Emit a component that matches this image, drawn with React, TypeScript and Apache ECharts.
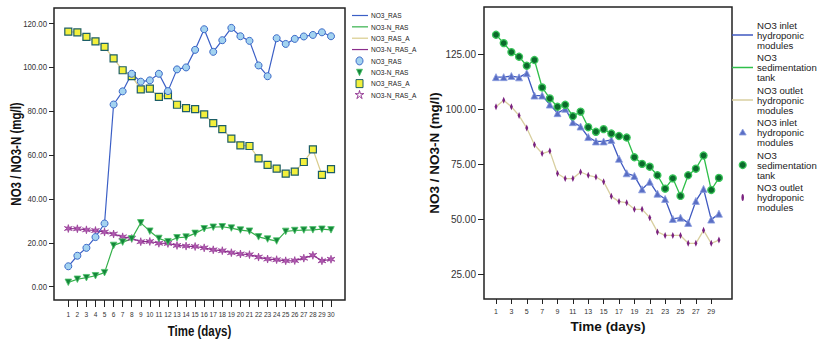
import React, { useEffect, useRef } from "react";
import * as echarts from "echarts";

// ---------- data ----------
const days = [1, 2, 3, 4, 5, 6, 7, 8, 9, 10, 11, 12, 13, 14, 15, 16, 17, 18, 19, 20, 21, 22, 23, 24, 25, 26, 27, 28, 29, 30];
const leftXTicks = days;
const rightXTicks = [1, 3, 5, 7, 9, 11, 13, 15, 17, 19, 21, 23, 25, 27, 29];
const leftYTicks = [0, 20, 40, 60, 80, 100, 120];
const rightYTicks = [25, 50, 75, 100, 125];

const no3Ras = [9.3, 14.1, 17.7, 22.6, 28.8, 83.0, 89.0, 97.0, 93.4, 94.0, 97.0, 89.1, 99.0, 99.9, 107.9, 117.3, 107.0, 112.3, 117.9, 114.1, 112.0, 100.8, 95.9, 113.2, 110.6, 112.9, 114.0, 114.7, 115.9, 114.1];
const no3NRas = [2.0, 3.4, 4.1, 5.0, 6.4, 18.8, 20.3, 21.8, 29.1, 25.3, 22.0, 20.5, 22.3, 22.6, 24.3, 26.4, 27.1, 27.3, 26.7, 25.8, 25.3, 22.7, 21.7, 20.8, 25.2, 25.6, 25.8, 25.9, 26.2, 25.9];
const no3RasA = [116.2, 115.9, 113.8, 111.8, 109.3, 104.0, 98.6, 95.9, 89.9, 90.2, 86.5, 87.3, 82.9, 81.4, 80.9, 78.5, 74.5, 71.8, 67.5, 64.4, 64.1, 58.5, 55.5, 53.8, 51.5, 52.4, 56.8, 62.6, 50.9, 53.6];
const no3NRasA = [26.5, 26.4, 25.9, 25.6, 24.9, 24.0, 22.7, 22.0, 20.5, 20.6, 19.8, 19.7, 18.8, 18.5, 18.3, 17.7, 16.8, 16.4, 15.5, 14.9, 14.6, 13.5, 12.6, 12.3, 11.8, 11.9, 13.0, 14.3, 11.8, 12.5];

const inlet = [114.8, 114.8, 115.3, 114.7, 116.6, 106.4, 106.4, 102.3, 98.4, 100.4, 94.3, 92.3, 87.5, 85.5, 85.5, 86.2, 77.6, 71.0, 69.8, 63.7, 67.1, 61.7, 59.3, 50.2, 50.8, 48.4, 58.4, 63.9, 49.9, 52.6];
const sedimentation = [134.1, 130.3, 126.2, 124.1, 120.0, 122.6, 110.1, 105.1, 101.3, 102.2, 97.0, 99.1, 92.0, 89.9, 91.1, 89.1, 88.0, 87.3, 78.3, 75.3, 74.0, 70.1, 64.0, 68.7, 60.7, 70.1, 73.1, 79.1, 63.4, 68.9];
const outlet = [101.3, 104.3, 101.3, 97.3, 91.6, 84.0, 80.0, 81.1, 70.9, 68.6, 68.6, 71.6, 70.1, 69.3, 67.2, 60.5, 58.1, 57.6, 54.6, 54.6, 50.8, 44.3, 42.7, 42.7, 42.7, 39.1, 39.1, 45.0, 39.1, 40.6];

const leftLegendNames = ["NO3_RAS", "NO3-N_RAS", "NO3_RAS_A", "NO3-N_RAS_A"];
const rightLegendNames = ["NO3 inlet\nhydroponic\nmodules", "NO3\nsedimentation\ntank", "NO3 outlet\nhydroponic\nmodules"];
const yTitle = "NO3 / NO3-N (mg/l)";
const xTitle = "Time (days)";

// ---------- styles ----------
const SANS = "'Liberation Sans', Arial, sans-serif";
const NARROW_SCALE = 0.82;

const C = {
  blueLine: "#3b5fc6",
  greenLine: "#35b04a",
  beigeLine: "#d9cc8c",
  purpleLine: "#8a2d8c",
  circleFill: "#a3d3f0",
  circleBorder: "#3c6ac8",
  squareFill: "#f3f03c",
  squareBorder: "#1d5e66",
  triFill: "#14873a",
  triBorder: "#4cc36a",
  star: "#8b2a8b",
  rBlue: "#3f59c0",
  rGreen: "#2fbf4a",
  rBeige: "#d8cfa0",
  rTri: "#5a6ec4",
  rTriBorder: "#8c9ee0",
  rCircle: "#0b6b2b",
  rCircleBorder: "#39c45a",
  rDiamond: "#7b2280",
};

function starPoints(cx: number, cy: number, ro: number, ri: number, n: number) {
  const pts: number[][] = [];
  for (let i = 0; i < n * 2; i++) {
    const r = i % 2 === 0 ? ro : ri;
    const a = -Math.PI / 2 + (i * Math.PI) / n;
    pts.push([cx + r * Math.cos(a), cy + r * Math.sin(a)]);
  }
  return pts;
}
function starPath() {
  const p = starPoints(0, 0, 10, 3.5, 6);
  return "path://" + p.map((q, i) => (i === 0 ? "M" : "L") + q[0].toFixed(2) + "," + q[1].toFixed(2)).join(" ") + " Z";
}
const STAR = starPath();
const DIAMOND = "path://M0,0 L2,5 L0,10 L-2,5 Z M-2,4.6 L2,4.6 L2,5.4 L-2,5.4 Z";

const pair = (vals: number[]) => vals.map((v, i) => [days[i], v]);

function narrowText(text: string, x: number, y: number, font: string, align: string, vAlign: string, extra: any = {}) {
  return {
    type: "text", x, y, scaleX: NARROW_SCALE, ...extra,
    style: { text, font, fill: extra.fill || "#333", align, verticalAlign: vAlign },
  };
}

export default function App() {
  const ref = useRef<HTMLDivElement>(null);
  useEffect(() => {
    if (!ref.current) return;
    const chart = echarts.init(ref.current, null, { renderer: "svg" });

    const L = { left: 54, top: 8, width: 291, height: 292 };
    const option: any = {
      animation: false,
      backgroundColor: "#ffffff",
      grid: [
        { ...L, show: true, borderColor: "#222", borderWidth: 1.5, backgroundColor: "transparent" },
        { left: 484, top: 7, width: 248, height: 292, show: true, borderColor: "#222", borderWidth: 1.5, backgroundColor: "transparent" },
      ],
      xAxis: [
        {
          type: "value", gridIndex: 0, min: -0.579, max: 31.545,
          axisLine: { show: false, onZero: false },
          splitLine: { show: false },
          axisTick: { show: true, length: 7, customValues: leftXTicks, lineStyle: { color: "#222", width: 1 } },
          axisLabel: { show: false, customValues: leftXTicks },
        },
        {
          type: "value", gridIndex: 1, min: -0.563, max: 31.7,
          axisLine: { show: false, onZero: false },
          splitLine: { show: false },
          axisTick: { show: true, length: 5, customValues: rightXTicks, lineStyle: { color: "#222", width: 1 } },
          axisLabel: { customValues: rightXTicks, margin: 9, fontFamily: SANS, fontSize: 7, color: "#333", formatter: (v: number) => String(v) },
          name: xTitle, nameLocation: "middle", nameGap: 20,
          nameTextStyle: { fontFamily: SANS, fontWeight: "bold", fontSize: 13.5, color: "#111" },
        },
      ],
      yAxis: [
        {
          type: "value", gridIndex: 0, min: -6.06, max: 126.97,
          axisLine: { show: false, onZero: false },
          splitLine: { show: false },
          axisTick: { show: true, length: 5, customValues: leftYTicks, lineStyle: { color: "#222", width: 1 } },
          axisLabel: { show: false, customValues: leftYTicks },
        },
        {
          type: "value", gridIndex: 1, min: 13.74, max: 146.75,
          axisLine: { show: false, onZero: false },
          splitLine: { show: false },
          axisTick: { show: true, length: 6, customValues: rightYTicks, lineStyle: { color: "#222", width: 1 } },
          axisLabel: { customValues: rightYTicks, margin: 8, fontFamily: SANS, fontSize: 10, color: "#333", formatter: (v: number) => v.toFixed(2) },
          name: yTitle, nameLocation: "middle", nameGap: 40, nameRotate: 90,
          nameTextStyle: { fontFamily: SANS, fontWeight: "bold", fontSize: 13.5, color: "#111" },
        },
      ],
      series: [
        {
          type: "line", xAxisIndex: 0, yAxisIndex: 0, data: pair(no3RasA),
          lineStyle: { color: C.beigeLine, width: 1.2 },
          symbol: "rect", symbolSize: 7,
          itemStyle: { color: C.squareFill, borderColor: C.squareBorder, borderWidth: 1.2 },
        },
        {
          type: "line", xAxisIndex: 0, yAxisIndex: 0, data: pair(no3NRasA),
          lineStyle: { color: C.purpleLine, width: 1.2 },
          symbol: STAR, symbolSize: 8,
          itemStyle: { color: "#b05ab0", borderColor: C.star, borderWidth: 0.6 },
        },
        {
          type: "line", xAxisIndex: 0, yAxisIndex: 0, data: pair(no3NRas),
          lineStyle: { color: C.greenLine, width: 1.2 },
          symbol: "triangle", symbolSize: 6.5, symbolRotate: 180,
          itemStyle: { color: C.triFill, borderColor: C.triBorder, borderWidth: 0.8 },
        },
        {
          type: "line", xAxisIndex: 0, yAxisIndex: 0, data: pair(no3Ras),
          lineStyle: { color: C.blueLine, width: 1.2 },
          symbol: "circle", symbolSize: 7,
          itemStyle: { color: C.circleFill, borderColor: C.circleBorder, borderWidth: 1 },
        },
        {
          type: "line", xAxisIndex: 1, yAxisIndex: 1, data: pair(outlet),
          lineStyle: { color: C.rBeige, width: 1.3 },
          symbol: DIAMOND, symbolSize: [3, 7],
          itemStyle: { color: C.rDiamond },
        },
        {
          type: "line", xAxisIndex: 1, yAxisIndex: 1, data: pair(inlet),
          lineStyle: { color: C.rBlue, width: 1.3 },
          symbol: "triangle", symbolSize: 7,
          itemStyle: { color: C.rTri, borderColor: C.rTriBorder, borderWidth: 0.8 },
        },
        {
          type: "line", xAxisIndex: 1, yAxisIndex: 1, data: pair(sedimentation),
          lineStyle: { color: C.rGreen, width: 1.3 },
          symbol: "circle", symbolSize: 7,
          itemStyle: { color: C.rCircle, borderColor: C.rCircleBorder, borderWidth: 1.3 },
        },
      ],
    };
    chart.setOption(option);

    // ---- left chart texts (condensed, placed through the chart's own scales) ----
    const g: any[] = [];
    const gridBottom = L.top + L.height;
    const gridLeft = L.left;
    leftXTicks.forEach((v) => {
      const p = chart.convertToPixel({ gridIndex: 0 }, [v, 0]) as number[];
      g.push(narrowText(String(v), p[0], gridBottom + 10, `8px ${SANS}`, "center", "top"));
    });
    leftYTicks.forEach((v) => {
      const p = chart.convertToPixel({ gridIndex: 0 }, [1, v]) as number[];
      g.push(narrowText(v.toFixed(2), gridLeft - 7, p[1], `9.5px ${SANS}`, "right", "middle"));
    });
    g.push(narrowText(xTitle, L.left + L.width / 2, 331, `bold 14px ${SANS}`, "center", "middle", { fill: "#111" }));
    g.push(narrowText(yTitle, 16, L.top + L.height / 2, `bold 14px ${SANS}`, "center", "middle", { fill: "#111", rotation: Math.PI / 2 }));

    // left legend
    const leftRowY = (i: number) => 15.5 + i * 11.35;
    const leftLineColors = [C.blueLine, C.greenLine, C.beigeLine, C.purpleLine];
    leftLegendNames.forEach((n, i) => {
      const y = leftRowY(i);
      g.push({ type: "line", shape: { x1: 352, y1: y, x2: 368, y2: y }, style: { stroke: leftLineColors[i], lineWidth: 1.2 } });
      g.push(narrowText(n, 371, y, `8px ${SANS}`, "left", "middle", { fill: "#222" }));
    });
    leftLegendNames.forEach((n, i) => {
      g.push(narrowText(n, 371, leftRowY(i + 4), `8px ${SANS}`, "left", "middle", { fill: "#222" }));
    });
    const mx = 359.5;
    g.push({ type: "ellipse", shape: { cx: mx, cy: leftRowY(4), rx: 3.5, ry: 4 }, style: { fill: C.circleFill, stroke: C.circleBorder, lineWidth: 1 } });
    g.push({ type: "polygon", shape: { points: [[mx - 3, leftRowY(5) - 3], [mx + 3, leftRowY(5) - 3], [mx, leftRowY(5) + 3.5]] }, style: { fill: C.triFill, stroke: C.triBorder, lineWidth: 0.8 } });
    g.push({ type: "rect", shape: { x: mx - 3.5, y: leftRowY(6) - 4, width: 7, height: 8 }, style: { fill: C.squareFill, stroke: C.squareBorder, lineWidth: 1 } });
    g.push({ type: "polygon", shape: { points: starPoints(mx, leftRowY(7), 4.5, 1.5, 5) }, style: { fill: "none", stroke: C.star, lineWidth: 0.9 } });

    // right legend
    const groupTop = (i: number) => 20 + i * 32.5;
    const rLineColors = [C.rBlue, C.rGreen, C.rBeige];
    for (let k = 0; k < 6; k++) {
      const top = groupTop(k);
      const mid = top + 15;
      g.push({ type: "text", x: 757, y: top, style: { text: rightLegendNames[k % 3], font: `9.6px ${SANS}`, fill: "#222", lineHeight: 10, verticalAlign: "top" } });
      if (k < 3) {
        g.push({ type: "line", shape: { x1: 732, y1: mid, x2: 753, y2: mid }, style: { stroke: rLineColors[k], lineWidth: 1.5 } });
      }
    }
    const rmx = 742.7;
    g.push({ type: "polygon", shape: { points: [[rmx, groupTop(3) + 11.5], [rmx + 3.5, groupTop(3) + 17.5], [rmx - 3.5, groupTop(3) + 17.5]] }, style: { fill: C.rTri, stroke: C.rTriBorder, lineWidth: 0.8 } });
    g.push({ type: "circle", shape: { cx: rmx, cy: groupTop(4) + 15, r: 3.5 }, style: { fill: C.rCircle, stroke: C.rCircleBorder, lineWidth: 1.2 } });
    g.push({ type: "ellipse", shape: { cx: rmx, cy: groupTop(5) + 15, rx: 1.3, ry: 3.5 }, style: { fill: C.rDiamond } });

    chart.setOption({ graphic: g });
    return () => chart.dispose();
  }, []);

  return <div ref={ref} style={{ position: "fixed", left: 0, top: 0, width: 817, height: 340, background: "#fff" }} />;
}
